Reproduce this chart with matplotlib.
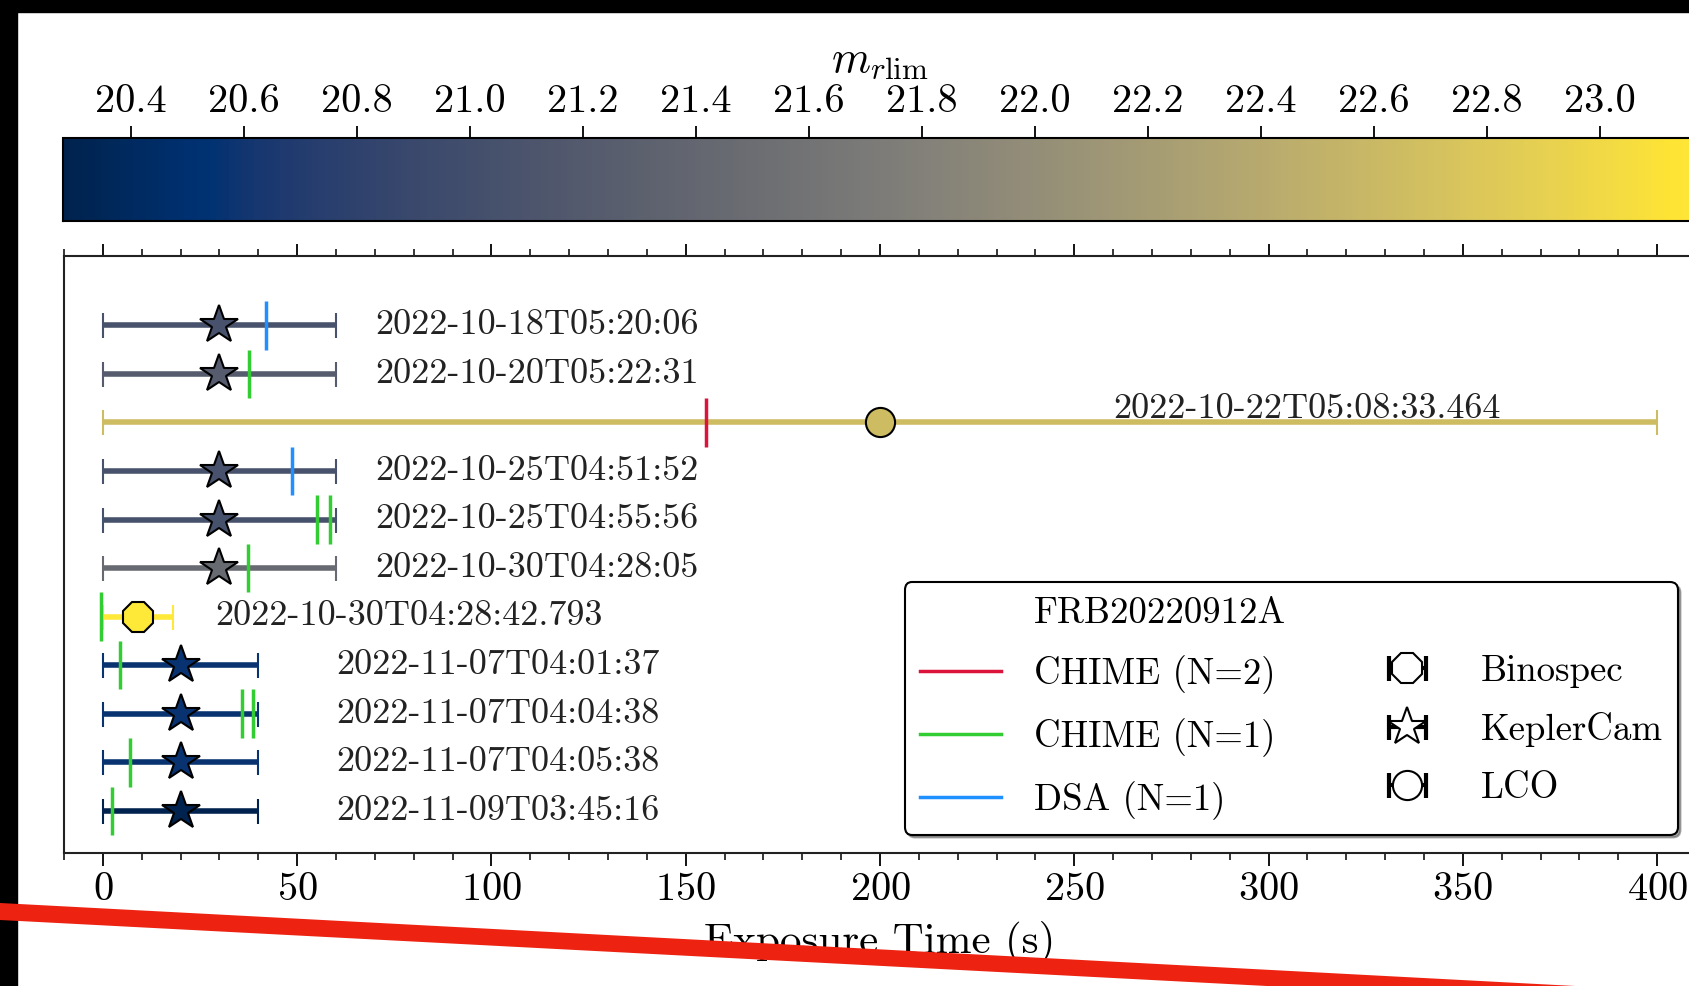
import matplotlib.pyplot as plt
import matplotlib as mpl
import numpy as np
from matplotlib.lines import Line2D
from matplotlib.patches import Rectangle, Polygon
from matplotlib.collections import LineCollection
from matplotlib.container import ErrorbarContainer

plt.rcParams['font.family'] = 'serif'
plt.rcParams['font.serif'] = ['cmr10']
plt.rcParams['mathtext.fontset'] = 'cm'
plt.rcParams['axes.formatter.use_mathtext'] = True

# observations, top to bottom
obs_times = ['2022-10-18T05:20:06', '2022-10-20T05:22:31', '2022-10-22T05:08:33.464',
             '2022-10-25T04:51:52', '2022-10-25T04:55:56', '2022-10-30T04:28:05',
             '2022-10-30T04:28:42.793', '2022-11-07T04:01:37', '2022-11-07T04:04:38',
             '2022-11-07T04:05:38', '2022-11-09T03:45:16']
instruments = ['KeplerCam', 'KeplerCam', 'LCO', 'KeplerCam', 'KeplerCam', 'KeplerCam',
               'Binospec', 'KeplerCam', 'KeplerCam', 'KeplerCam', 'KeplerCam']
exposure = [60, 60, 400, 60, 60, 60, 18, 40, 40, 40, 40]
mag_lim = [21.06, 21.23, 22.65, 21.06, 21.04, 21.46, 23.17, 20.57, 20.57, 20.57, 20.28]

# burst arrival times inside each exposure (s)
chime2_bursts = [[], [], [155.2], [], [], [], [], [], [], [], []]
chime1_bursts = [[], [37.6], [], [], [55.0, 58.4], [37.3], [-0.4], [4.4], [35.7, 38.7], [7.0], [2.3]]
dsa_bursts = [[42.0], [], [], [48.6], [], [], [], [], [], [], []]

# where each date label sits
label_x = [70, 70, 260, 70, 70, 70, 29, 60, 60, 60, 60]
label_dy = [0, 0, -0.28, 0, 0, 0, 0, 0, 0, 0, 0]

markers = {'Binospec': '8', 'KeplerCam': '*', 'LCO': 'o'}
msizes = {'Binospec': 24, 'KeplerCam': 29, 'LCO': 21}

fig = plt.figure(figsize=(16.89, 9.86), dpi=100)
ax = fig.add_axes([64/1689, 1-853/986, 1632/1689, 597/986])
cax = fig.add_axes([63/1689, 1-221/986, 1633/1689, 83/986])

cmap = plt.get_cmap('cividis')
norm = mpl.colors.Normalize(vmin=min(mag_lim), vmax=max(mag_lim))

for i in range(len(obs_times)):
    c = cmap(norm(mag_lim[i]))
    inst = instruments[i]
    ax.errorbar(exposure[i]/2, i, xerr=exposure[i]/2, fmt=markers[inst], color=c,
                mfc=c, mec='k', mew=1.5, ms=msizes[inst], elinewidth=4,
                capsize=9, capthick=1.2, zorder=2)
    for t in chime2_bursts[i]:
        ax.vlines(t, i-0.5, i+0.5, color='crimson', lw=2.5, zorder=3)
    for t in chime1_bursts[i]:
        ax.vlines(t, i-0.5, i+0.5, color='limegreen', lw=2.5, zorder=3)
    for t in dsa_bursts[i]:
        ax.vlines(t, i-0.5, i+0.5, color='dodgerblue', lw=2.5, zorder=3)
    ax.text(label_x[i], i + label_dy[i], obs_times[i], ha='left', va='center',
            fontsize=26, color='#222222')

ax.set_xlim(-10, 410)
ax.set_ylim(10.87, -1.43)
ax.set_yticks([])
ax.xaxis.set_major_locator(mpl.ticker.MultipleLocator(50))
ax.xaxis.set_minor_locator(mpl.ticker.MultipleLocator(10))
ax.tick_params(axis='x', which='both', top=True, direction='out', labelsize=29, pad=5)
ax.tick_params(axis='x', which='major', length=9, width=1.3)
ax.tick_params(axis='x', which='minor', length=5, width=1.1)
ax.set_xlabel('Exposure Time (s)', fontsize=31, labelpad=9)
for s in ax.spines.values():
    s.set_linewidth(1.5)
    s.set_color('#222222')

# legend proxies
h_title = Line2D([], [], color='none')
h_c2 = Line2D([], [], color='crimson', lw=2.5)
h_c1 = Line2D([], [], color='limegreen', lw=2.5)
h_dsa = Line2D([], [], color='dodgerblue', lw=2.5)
h_blank = Line2D([], [], color='none')
h_inst = []
for inst in ['Binospec', 'KeplerCam', 'LCO']:
    mline = Line2D([], [], ls='none', marker=markers[inst], color='k', mfc='w',
                   mec='k', mew=1.5, ms=msizes[inst])
    cap = Line2D([], [], ls='none', marker='|', color='k', ms=18, mew=3)
    bar = LineCollection([], colors='k', linewidths=3)
    h_inst.append(ErrorbarContainer((mline, (cap, cap), (bar,)), has_xerr=True, has_yerr=False))
leg = ax.legend([h_title, h_c2, h_c1, h_dsa, h_blank] + h_inst,
                ['FRB20220912A', 'CHIME (N=2)', 'CHIME (N=1)', 'DSA (N=1)', ' ',
                 'Binospec', 'KeplerCam', 'LCO'],
                ncol=2, loc='lower right', fontsize=26.5, frameon=True, fancybox=True,
                shadow=True, framealpha=1, edgecolor='k', handlelength=2.2,
                columnspacing=2.2, handletextpad=0.9, labelspacing=0.66)
leg.get_frame().set_linewidth(1.5)

sm = mpl.cm.ScalarMappable(norm=norm, cmap=cmap)
cb = fig.colorbar(sm, cax=cax, orientation='horizontal', ticklocation='top')
cb.set_ticks(np.arange(20.4, 23.05, 0.2))
cax.xaxis.set_major_formatter(mpl.ticker.FormatStrFormatter('%.1f'))
cax.tick_params(length=9, width=1.3, labelsize=29, pad=4)
cb.outline.set_linewidth(1.5)
cb.set_label(r'$m_{r\mathrm{lim}}$', fontsize=32)
cax.xaxis.set_label_coords(0.5, 1.80)

# black border and red stroke across the bottom of the picture
fig.add_artist(Rectangle((0, 1-12/986), 1, 12/986, transform=fig.transFigure,
                         color='black', zorder=20))
fig.add_artist(Rectangle((0, 0), 17/1689, 1, transform=fig.transFigure,
                         color='black', zorder=20))
fig.add_artist(Polygon([(0, 1-903/986), (1, 1-992/986), (1, 1-1008/986), (0, 1-920/986)],
                       closed=True, transform=fig.transFigure, color='#ee2211',
                       lw=0, zorder=21))

fig.savefig('out.png', dpi=100)
